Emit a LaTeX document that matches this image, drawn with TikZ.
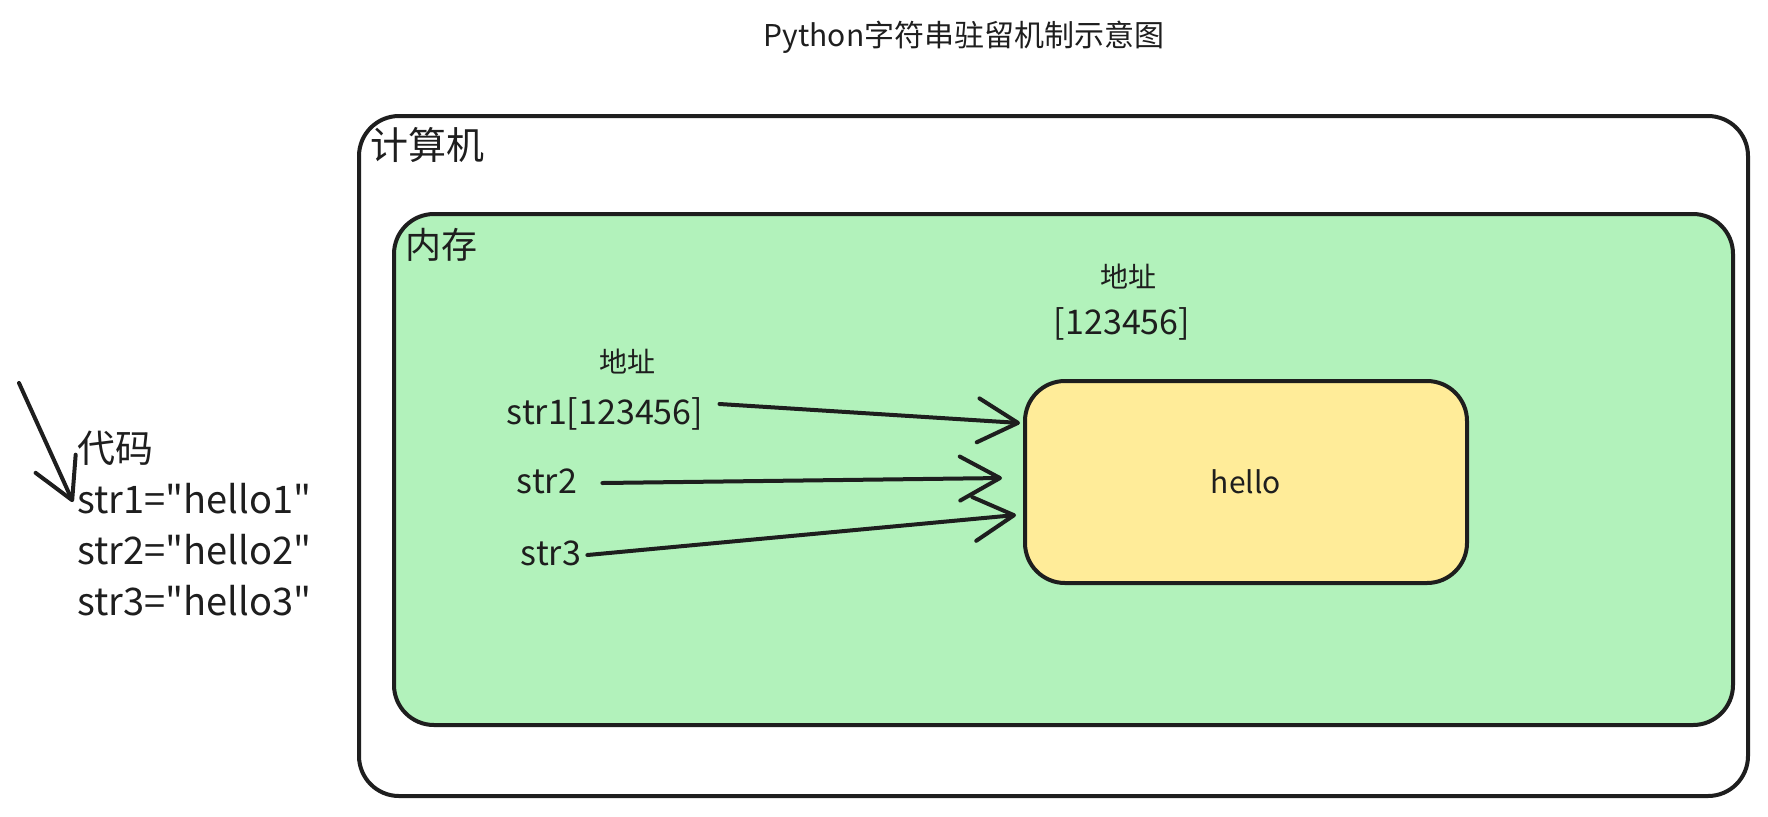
\documentclass[tikz,border=0pt]{standalone}
\usepackage{fontspec}
\setmainfont{Noto Sans CJK SC}[Ligatures=TeXOff]
\usetikzlibrary{arrows.meta,positioning}
\definecolor{inkblack}{HTML}{1E1E1E}
\definecolor{memgreen}{HTML}{B2F2BB}
\definecolor{cellyellow}{HTML}{FFEC99}
\tikzset{
  box/.style       = {shape=rectangle, rounded corners=20pt,
          draw=inkblack, line width=2pt},
  outerbox/.style  = {box, fill=white, minimum width=694.5pt, minimum height=340pt},
  membox/.style    = {box, fill=memgreen, minimum width=669.5pt, minimum height=255.5pt},
  cellbox/.style   = {box, fill=cellyellow, minimum width=221pt, minimum height=101pt,
          font=\fontsize{15}{18}\selectfont},
  boxlabel/.style  = {inner sep=0pt, anchor=north west, font=\fontsize{19}{22}\selectfont},
  varlabel/.style  = {inner sep=0pt, font=\fontsize{17}{20}\selectfont},
  addrlabel/.style = {inner sep=0pt, font=\fontsize{14}{17}\selectfont},
  codetext/.style  = {inner sep=0pt, align=left, anchor=north west,
          font=\fontsize{19}{25.5}\selectfont},
  pointer/.style   = {draw=inkblack, line width=2pt, line cap=round,
          -{Straight Barb[round, length=20pt, width=22pt]}}
}

\begin{document}
\begin{tikzpicture}
  [
    x                 = 0.5pt,
    y                 = -0.5pt,
    every node/.style = {text=inkblack}
  ]
  \useasboundingbox (0,0) rectangle (1768,816);
  \node [font=\fontsize{15}{18}\selectfont] (title) at (964,37) {Python字符串驻留机制示意图};
  \node [outerbox] (computer) at (1053.5,456) {};
  \node [boxlabel] (computerlabel) at ([shift={(13,13)}]computer.north west) {计算机};
  \node [membox] (memory) at (1063.5,469.5) {};
  \node [boxlabel, font=\fontsize{18}{21}\selectfont] (memorylabel)
    at ([shift={(13,16)}]memory.north west) {内存};
  \node [cellbox] (cell) at (1246,482) {hello};
  \node [addrlabel] (celladdr) at (1128,277) {地址};
  \node [varlabel] (celladdrval) at (1122,324) {[123456]};
  \node [addrlabel] (varaddr) at (627,362) {地址};
  \node [varlabel] (str1) at (605,414) {str1[123456]};
  \node [varlabel] (str2) at (547,481) {str2};
  \node [varlabel] (str3) at (551,553) {str3};
  \draw [pointer] ([shift={(16,-10)}]str1.east) -- ([shift={(-3,-59)}]cell.west);
  \draw [pointer] ([shift={(25,2)}]str2.east) -- ([shift={(-21,-4)}]cell.west);
  \draw [pointer] ([shift={(6,2)}]str3.east) -- ([shift={(-7,33)}]cell.west);
  \node [codetext] (code) at (77,431)
    {代码\\str1="hello1"\\str2="hello2"\\str3="hello3"};
  \coordinate (codearrowtail) at (19,383);
  \coordinate (codearrowhead) at (73,502);
  \draw [pointer] (codearrowtail) -- (codearrowhead);
\end{tikzpicture}
\end{document}
